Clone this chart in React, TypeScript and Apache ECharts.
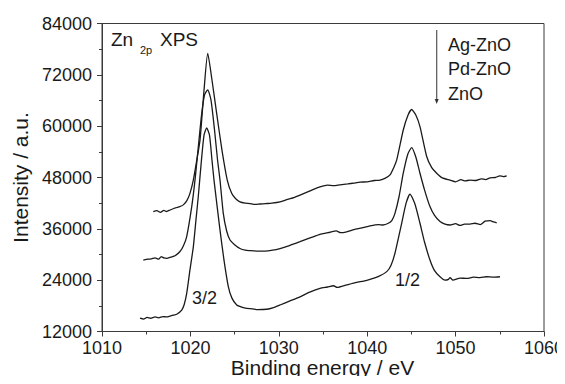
import React, { useEffect, useRef } from "react";
import * as echarts from "echarts";

// ---- data ----
const xTickValues = [1010, 1020, 1030, 1040, 1050, 1060];
const yTickValues = [12000, 24000, 36000, 48000, 60000, 72000, 84000];
const seriesNames = ["Ag-ZnO", "Pd-ZnO", "ZnO"];
const xAxisTitle = "Binding energy / eV";
const yAxisTitle = "Intensity / a.u.";

const agEnergy = [1015.8, 1016.2, 1016.6, 1017.0, 1017.3, 1017.7, 1018.3, 1018.8, 1019.2, 1019.6, 1019.95, 1020.33, 1020.7, 1021.09, 1021.54, 1021.96, 1022.44, 1022.97, 1023.57, 1024.17, 1024.67, 1025.1, 1025.61, 1026.2, 1026.74, 1027.3, 1027.87, 1028.5, 1029.2, 1030.14, 1031.0, 1031.7, 1032.4, 1033.2, 1034.0, 1034.66, 1035.5, 1036.2, 1036.92, 1037.8, 1038.5, 1039.19, 1040.0, 1040.8, 1041.45, 1042.0, 1042.58, 1043.0, 1043.34, 1044.08, 1044.6, 1045.03, 1045.5, 1045.97, 1046.73, 1047.3, 1047.86, 1048.5, 1049.37, 1050.0, 1050.6, 1051.1, 1051.63, 1052.3, 1052.9, 1053.4, 1053.89, 1054.5, 1055.0, 1055.4, 1055.78];
const agIntensity = [40000, 40250, 39850, 40300, 40050, 40400, 40900, 41200, 41600, 42600, 44300, 47400, 51800, 56800, 68400, 77000, 70800, 63000, 54400, 47400, 44300, 43100, 42300, 42000, 41900, 41700, 41800, 41900, 42000, 42300, 42900, 43300, 43900, 44600, 45300, 45800, 46200, 46100, 46300, 46500, 46700, 46900, 47000, 47300, 47400, 47800, 48600, 50300, 52100, 59100, 62500, 63900, 62600, 59900, 52900, 50300, 49000, 47900, 47400, 47000, 47500, 47200, 47400, 47300, 47700, 47500, 47900, 48000, 48400, 48200, 48400];

const pdEnergy = [1014.67, 1015.2, 1015.6, 1016.0, 1016.4, 1016.7, 1017.0, 1017.32, 1017.8, 1018.26, 1018.82, 1019.2, 1019.58, 1020.15, 1020.52, 1020.86, 1021.26, 1021.6, 1021.96, 1022.33, 1022.73, 1023.07, 1023.35, 1023.72, 1024.1, 1024.48, 1025.0, 1025.61, 1026.2, 1026.74, 1027.5, 1028.44, 1029.3, 1030.14, 1031.2, 1032.4, 1033.3, 1034.5, 1035.79, 1036.5, 1037.0, 1037.68, 1038.5, 1039.4, 1040.32, 1041.3, 1041.8, 1042.39, 1042.8, 1043.14, 1043.6, 1044.08, 1044.6, 1045.03, 1045.5, 1045.97, 1046.5, 1047.1, 1047.6, 1048.24, 1048.8, 1049.37, 1050.0, 1050.5, 1051.0, 1051.63, 1052.2, 1052.8, 1053.33, 1053.9, 1054.3, 1054.65];
const pdIntensity = [28700, 28900, 29000, 29200, 28900, 29500, 29200, 29100, 29400, 29700, 30700, 32000, 34200, 41200, 47400, 54400, 62600, 67300, 68500, 66100, 59100, 52100, 47400, 39600, 35500, 33400, 32300, 31400, 31000, 30900, 30800, 30800, 31000, 31400, 32100, 33000, 33700, 34600, 35200, 35500, 35100, 35300, 35800, 36200, 36700, 37000, 36900, 37300, 38000, 39600, 43500, 49000, 53500, 55000, 52800, 49000, 45000, 41200, 39200, 37700, 37100, 36900, 37200, 36800, 37100, 37100, 37300, 37000, 37800, 37900, 37600, 37400];

const znoEnergy = [1014.3, 1014.7, 1015.1, 1015.5, 1016.0, 1016.4, 1016.9, 1017.3, 1017.7, 1018.07, 1018.5, 1019.02, 1019.3, 1019.58, 1019.95, 1020.33, 1020.63, 1020.89, 1021.2, 1021.54, 1021.84, 1022.16, 1022.44, 1022.67, 1023.35, 1023.8, 1024.29, 1024.7, 1025.24, 1025.8, 1026.37, 1027.0, 1027.6, 1028.63, 1029.4, 1030.14, 1031.2, 1032.4, 1033.5, 1034.66, 1035.5, 1036.2, 1036.6, 1037.68, 1038.8, 1039.6, 1040.32, 1041.3, 1042.21, 1042.7, 1043.14, 1043.9, 1044.4, 1044.84, 1045.4, 1045.97, 1046.5, 1047.1, 1047.6, 1048.24, 1048.8, 1049.2, 1049.37, 1049.7, 1050.5, 1051.3, 1052.0, 1052.76, 1053.5, 1054.3, 1055.02];
const znoIntensity = [15100, 14900, 15300, 15100, 15400, 15200, 15500, 15400, 15600, 15800, 16100, 17000, 18300, 20900, 26400, 31800, 38100, 43500, 50900, 57900, 59600, 57900, 52100, 47400, 35700, 28700, 22500, 19800, 18200, 17700, 17400, 17300, 17100, 17200, 17600, 18200, 19100, 20100, 21200, 22100, 22400, 22700, 22300, 22900, 23500, 23800, 24200, 24900, 26000, 27500, 30300, 37300, 42000, 44100, 41800, 37300, 32800, 28700, 26300, 24800, 24000, 24200, 24600, 24000, 24500, 24400, 24700, 24600, 24800, 24700, 24800];

const FONT = "'Liberation Sans', Arial, Helvetica, sans-serif";
const INK = "#1a1a1a";
const AXIS = "#3a3a3a";

function pairs(xs: number[], ys: number[]) {
  return xs.map((x, i) => [x, ys[i]]);
}

export default function App() {
  const ref = useRef<HTMLDivElement>(null);

  useEffect(() => {
    if (!ref.current) return;
    const chart = echarts.init(ref.current, undefined, { renderer: "svg" });
    const seriesData = [
      pairs(agEnergy, agIntensity),
      pairs(pdEnergy, pdIntensity),
      pairs(znoEnergy, znoIntensity),
    ];
    chart.setOption({
      animation: false,
      backgroundColor: "#ffffff",
      grid: {
        left: 102,
        right: 21,
        top: 23.5,
        bottom: 52.5,
        containLabel: false,
        outerBoundsMode: "none",
        show: true,
        borderColor: AXIS,
        borderWidth: 1,
        backgroundColor: "transparent",
      },
      xAxis: {
        type: "value",
        min: xTickValues[0],
        max: xTickValues[xTickValues.length - 1],
        interval: 10,
        axisLine: { show: true, onZero: false, lineStyle: { color: AXIS, width: 1 } },
        axisTick: { show: true, inside: false, length: 5, lineStyle: { color: AXIS } },
        minorTick: { show: true, splitNumber: 2, length: 3, lineStyle: { color: AXIS } },
        axisLabel: { fontFamily: FONT, fontSize: 18, color: INK, margin: 7, formatter: (v: number) => String(v) },
        splitLine: { show: false },
      },
      yAxis: {
        type: "value",
        min: yTickValues[0],
        max: yTickValues[yTickValues.length - 1],
        interval: 12000,
        name: yAxisTitle,
        nameLocation: "middle",
        nameGap: 71,
        nameTextStyle: { fontFamily: FONT, fontSize: 21, color: INK },
        axisLine: { show: true, onZero: false, lineStyle: { color: AXIS, width: 1 } },
        axisTick: { show: true, inside: false, length: 5, lineStyle: { color: AXIS } },
        minorTick: { show: true, splitNumber: 2, length: 3, lineStyle: { color: AXIS } },
        axisLabel: { fontFamily: FONT, fontSize: 18, color: INK, margin: 10, formatter: (v: number) => String(v) },
        splitLine: { show: false },
      },
      series: seriesNames.map((name, i) => ({
        name,
        type: "line",
        data: seriesData[i],
        showSymbol: false,
        smooth: 0.2,
        lineStyle: { color: INK, width: 1.3 },
        silent: true,
      })),
      graphic: [
        {
          type: "text",
          x: 322.5,
          y: 367,
          style: { text: xAxisTitle, font: `21px ${FONT}`, fill: INK, align: "center", verticalAlign: "middle" },
        },
        { type: "text", left: 111, top: 30, style: { text: "Zn", font: `19px ${FONT}`, fill: INK } },
        { type: "text", left: 140, top: 44, style: { text: "2p", font: `11px ${FONT}`, fill: INK } },
        { type: "text", left: 160, top: 30, style: { text: "XPS", font: `19px ${FONT}`, fill: INK } },
        { type: "line", shape: { x1: 436.7, y1: 30, x2: 436.7, y2: 101 }, style: { stroke: "#555", lineWidth: 1.2 } },
        { type: "polygon", shape: { points: [[434.7, 99], [438.7, 99], [436.7, 104]] }, style: { fill: "#333" } },
        { type: "text", left: 448, top: 36, style: { text: seriesNames[0], font: `18px ${FONT}`, fill: INK } },
        { type: "text", left: 448, top: 60, style: { text: seriesNames[1], font: `18px ${FONT}`, fill: INK } },
        { type: "text", left: 448, top: 85, style: { text: seriesNames[2], font: `18px ${FONT}`, fill: INK } },
        { type: "text", left: 192, top: 289, style: { text: "3/2", font: `18px ${FONT}`, fill: INK } },
        { type: "text", left: 395, top: 271, style: { text: "1/2", font: `18px ${FONT}`, fill: INK } },
      ],
    });
    return () => chart.dispose();
  }, []);

  return (
    <div style={{ margin: -8 }}>
      <div ref={ref} style={{ width: 565, height: 384 }} />
    </div>
  );
}
